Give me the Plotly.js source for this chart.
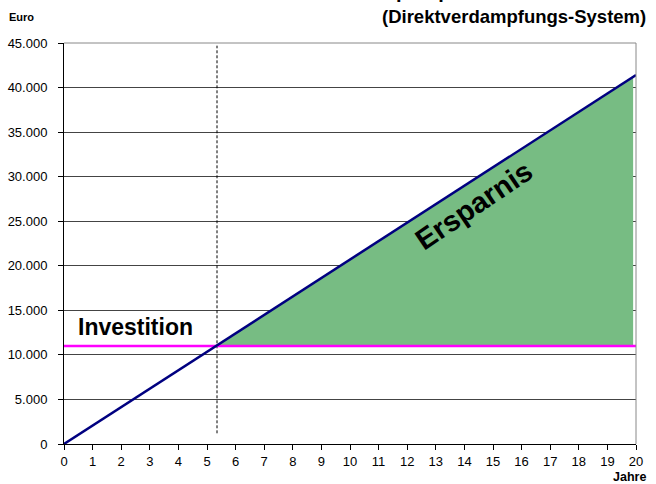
<!DOCTYPE html>
<html><head><meta charset="utf-8">
<script src="https://cdn.plot.ly/plotly-3.0.1.min.js"></script>
<style>html,body{margin:0;padding:0;background:#fff}#chart{width:656px;height:484px}</style>
</head><body><div id="chart"></div>
<script>
var jahre = [0, 20];
var ersparnisKumuliert = [0, 41400];
var investitionJahre = [0, 20];
var investition = [11000, 11000];
var flaecheJahre = [5.32, 19.9];
var flaecheUnten = [11000, 11000];
var flaecheOben = [11000, 41190];
var amortJahre = [5.35, 5.35];
var amortWerte = [1200, 44700];
var xTicks = [0,1,2,3,4,5,6,7,8,9,10,11,12,13,14,15,16,17,18,19,20];
var yTicks = [0,5000,10000,15000,20000,25000,30000,35000,40000,45000];

var font = "Liberation Sans, Arial, sans-serif";
var traces = [
  {x: flaecheJahre, y: flaecheUnten, mode: 'lines', line: {width: 0, color: 'rgba(0,0,0,0)'}, hoverinfo: 'skip', showlegend: false},
  {x: flaecheJahre, y: flaecheOben, mode: 'lines', fill: 'tonexty', fillcolor: 'rgb(119,188,131)', line: {width: 0, color: 'rgba(0,0,0,0)'}, showlegend: false},
  {x: amortJahre, y: amortWerte, mode: 'lines', line: {color: '#000', width: 1, dash: '3px,2px'}, showlegend: false},
  {x: investitionJahre, y: investition, mode: 'lines', line: {color: '#ff00ff', width: 2.5}, showlegend: false},
  {x: jahre, y: ersparnisKumuliert, mode: 'lines', line: {color: '#000080', width: 2.5}, showlegend: false}
];

var layout = {
  width: 656, height: 484,
  margin: {l: 64, r: 20, t: 43, b: 40},
  paper_bgcolor: '#fff', plot_bgcolor: '#fff',
  separators: ',.',
  font: {family: font, size: 13, color: '#000'},
  xaxis: {range: [0, 20], tickvals: xTicks, ticktext: xTicks.map(String), ticks: 'outside', ticklen: 5, tickcolor: '#000',
          showgrid: false, zeroline: false, showline: true, linecolor: '#000', linewidth: 1, mirror: false,
          tickfont: {size: 13, family: font}},
  yaxis: {range: [0, 45000], tickvals: yTicks, tickformat: ',d', ticks: 'outside', ticklen: 5, tickcolor: '#000',
          ticklabelstandoff: 8,
          showgrid: true, gridcolor: '#444', gridwidth: 1, zeroline: false, showline: true, linecolor: '#000', linewidth: 1,
          tickfont: {size: 13, family: font}},
  shapes: [
    {type: 'line', xref: 'paper', yref: 'paper', x0: 0, x1: 1, y0: 1, y1: 1, line: {color: '#888', width: 1}},
    {type: 'line', xref: 'paper', yref: 'paper', x0: 1, x1: 1, y0: 0, y1: 1, line: {color: '#888', width: 1}}
  ],
  annotations: [
    {text: '<b>Amortisation einer Wärmepumpe</b>', xref: 'paper', yref: 'paper', x: 0.42, y: 1.097, yanchor: 'bottom', xanchor: 'center',
     showarrow: false, font: {size: 20, family: font}},
    {text: '<b>(Direktverdampfungs-System)</b>', xref: 'paper', yref: 'paper', x: 1.021, y: 1.065, xanchor: 'right', yanchor: 'middle',
     showarrow: false, font: {size: 18.5, family: font}},
    {text: '<b>Euro</b>', xref: 'paper', yref: 'paper', x: -0.075, y: 1.064, xanchor: 'center', yanchor: 'middle',
     showarrow: false, font: {size: 11, family: font}},
    {text: '<b>Jahre</b>', xref: 'paper', yref: 'paper', x: 1.021, y: -0.082, xanchor: 'right', yanchor: 'middle',
     showarrow: false, font: {size: 12.5, family: font}},
    {text: '<b>Investition</b>', xref: 'x', yref: 'y', x: 0.42, y: 13100, xanchor: 'left', yanchor: 'middle',
     showarrow: false, font: {size: 23, family: font}},
    {text: '<b>Ersparnis</b>', xref: 'x', yref: 'y', x: 14.35, y: 26800, xanchor: 'center', yanchor: 'middle', textangle: -34,
     showarrow: false, font: {size: 29, family: font}}
  ]
};
Plotly.newPlot('chart', traces, layout, {displayModeBar: false, staticPlot: true});
</script></body></html>
